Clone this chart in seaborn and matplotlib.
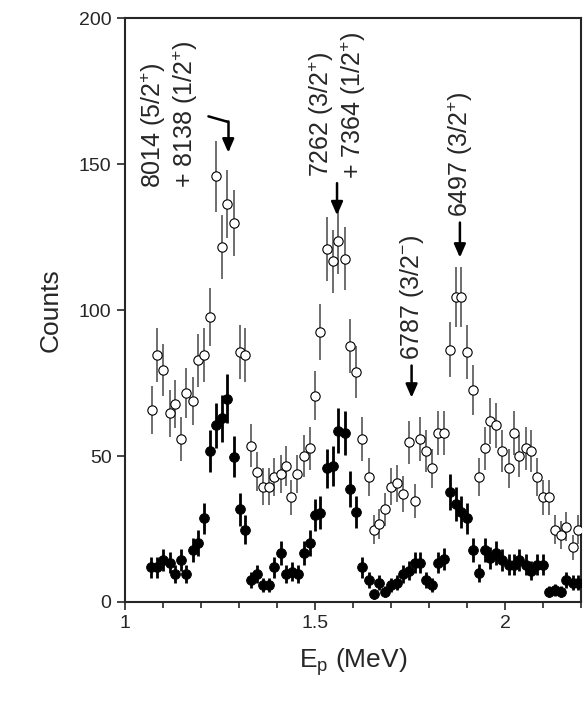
import numpy as np
import matplotlib
matplotlib.use("Agg")
import matplotlib.pyplot as plt
from matplotlib.ticker import MultipleLocator
import seaborn as sns

sns.set_style("ticks")
plt.rcParams['font.family'] = ['Liberation Sans', 'DejaVu Sans']
plt.rcParams['mathtext.default'] = 'regular'

# open circles
open_e = [1.071, 1.086, 1.101, 1.118, 1.133, 1.147, 1.162, 1.180, 1.193, 1.209, 1.223, 1.240,
          1.255, 1.270, 1.288, 1.302, 1.317, 1.332, 1.348, 1.363, 1.378, 1.393, 1.410, 1.425,
          1.438, 1.453, 1.471, 1.486, 1.500, 1.514, 1.532, 1.547, 1.561, 1.579, 1.593, 1.608,
          1.624, 1.641, 1.655, 1.669, 1.684, 1.701, 1.716, 1.731, 1.746, 1.763, 1.777, 1.792,
          1.808, 1.823, 1.839, 1.854, 1.870, 1.885, 1.900, 1.915, 1.932, 1.946, 1.961, 1.976,
          1.992, 2.009, 2.022, 2.036, 2.054, 2.069, 2.084, 2.099, 2.116, 2.131, 2.146, 2.161,
          2.178, 2.192]
open_counts = [65.8, 84.7, 79.5, 64.6, 67.8, 55.8, 71.6, 68.8, 82.8, 84.7, 97.7, 145.8,
               121.7, 136.5, 129.8, 85.6, 84.7, 53.5, 44.6, 39.5, 39.5, 42.8, 43.8, 46.6,
               35.8, 43.8, 50.0, 52.6, 70.7, 92.6, 120.8, 116.8, 123.6, 117.6, 87.7, 78.7,
               55.8, 42.9, 24.7, 26.7, 31.7, 39.5, 40.6, 37.0, 54.7, 34.6, 55.8, 51.8,
               45.8, 57.8, 57.8, 86.5, 104.6, 104.6, 85.6, 72.6, 42.9, 52.6, 62.0, 60.5,
               51.8, 45.8, 57.8, 50.0, 52.6, 51.8, 42.9, 35.8, 35.8, 24.7, 22.9, 25.8,
               18.7, 24.7]

# filled circles
filled_e = [1.068, 1.086, 1.101, 1.118, 1.133, 1.147, 1.162, 1.180, 1.193, 1.209, 1.223, 1.240,
            1.255, 1.270, 1.288, 1.302, 1.317, 1.332, 1.348, 1.363, 1.378, 1.393, 1.410, 1.425,
            1.440, 1.455, 1.471, 1.486, 1.500, 1.514, 1.532, 1.547, 1.561, 1.579, 1.593, 1.608,
            1.624, 1.641, 1.655, 1.669, 1.684, 1.701, 1.716, 1.731, 1.746, 1.763, 1.777, 1.792,
            1.808, 1.823, 1.839, 1.854, 1.870, 1.885, 1.900, 1.915, 1.932, 1.946, 1.961, 1.976,
            1.992, 2.009, 2.022, 2.036, 2.054, 2.069, 2.084, 2.099, 2.116, 2.131, 2.146, 2.161,
            2.178, 2.192]
filled_counts = [11.8, 11.8, 14.4, 13.5, 9.6, 14.4, 9.6, 17.8, 20.3, 28.7, 51.7, 60.5,
                 62.9, 69.7, 49.8, 31.7, 24.7, 7.5, 9.6, 5.8, 5.8, 11.8, 16.7, 9.6,
                 10.4, 9.6, 16.7, 20.3, 29.8, 30.6, 45.8, 46.6, 58.7, 57.8, 38.6, 30.9,
                 11.8, 7.5, 2.6, 6.6, 3.5, 5.8, 6.6, 9.6, 10.7, 13.5, 13.5, 7.5,
                 5.8, 13.5, 14.6, 37.8, 33.6, 30.9, 28.7, 17.8, 9.8, 17.8, 15.0, 16.7,
                 14.4, 12.7, 12.7, 14.4, 12.7, 10.7, 12.7, 12.7, 3.5, 4.1, 3.5, 7.5,
                 6.6, 6.6]

# level labels: text, x, bottom y
labels = ['8014 (5/2$^{+}$)', '+ 8138 (1/2$^{+}$)', '7262 (3/2$^{+}$)',
          '+ 7364 (1/2$^{+}$)', '6787 (3/2$^{-}$)', '6497 (3/2$^{+}$)']
label_x = [1.074, 1.159, 1.516, 1.600, 1.754, 1.881]
label_y = [142, 142, 145.5, 145, 83, 132]

# straight arrows: x, tail y, head y
arrow_x = [1.558, 1.754, 1.881]
arrow_top = [143.5, 81, 130]
arrow_head = [132.5, 70, 118]

fig, ax = plt.subplots(figsize=(5.83, 7.04), dpi=100)
fig.subplots_adjust(left=0.214, right=0.997, bottom=0.145, top=0.974)

ax.errorbar(open_e, open_counts, yerr=np.sqrt(open_counts), fmt='none',
            ecolor='#555555', elinewidth=1.2, zorder=1)
ax.errorbar(filled_e, filled_counts, yerr=np.sqrt(filled_counts), fmt='none',
            ecolor='black', elinewidth=2, zorder=1)
sns.scatterplot(x=open_e, y=open_counts, ax=ax, marker='o', s=45,
                facecolor='white', edgecolor='black', linewidth=0.8, zorder=3)
sns.scatterplot(x=filled_e, y=filled_counts, ax=ax, marker='o', s=50,
                color='black', edgecolor='black', zorder=3)

for t, x, y in zip(labels, label_x, label_y):
    ax.text(x, y, t, rotation=90, ha='center', va='bottom', fontsize=18)

for x, y0, y1 in zip(arrow_x, arrow_top, arrow_head):
    ax.annotate('', xy=(x, y1), xytext=(x, y0),
                arrowprops=dict(arrowstyle='-|>,head_width=0.35,head_length=0.8',
                                color='black', lw=1.8, shrinkA=0, shrinkB=0))
# bent arrow for the 8014/8138 doublet
ax.plot([1.220, 1.266], [166.4, 164.7], color='black', lw=1.8)
ax.annotate('', xy=(1.272, 154), xytext=(1.266, 164.7),
            arrowprops=dict(arrowstyle='-|>,head_width=0.35,head_length=0.8',
                            color='black', lw=1.8, shrinkA=0, shrinkB=0,
                            connectionstyle='angle,angleA=0,angleB=90,rad=0'))

ax.set_xlim(1.0, 2.2)
ax.set_ylim(0, 200)
ax.xaxis.set_minor_locator(MultipleLocator(0.1))
ax.yaxis.set_major_locator(MultipleLocator(50))
ax.set_xticks([1, 1.5, 2])
ax.set_xticklabels(['1', '1.5', '2'])
ax.tick_params(axis='both', which='major', labelsize=14, length=6, width=1.2, direction='out')
ax.tick_params(axis='x', which='minor', length=4, width=1.2, direction='out')
for s in ax.spines.values():
    s.set_linewidth(1.5)
    s.set_visible(True)
ax.set_xlabel('E$_{p}$ (MeV)', fontsize=19, labelpad=10)
ax.set_ylabel('Counts', fontsize=19, labelpad=12)

fig.savefig('out.png', dpi=100)
